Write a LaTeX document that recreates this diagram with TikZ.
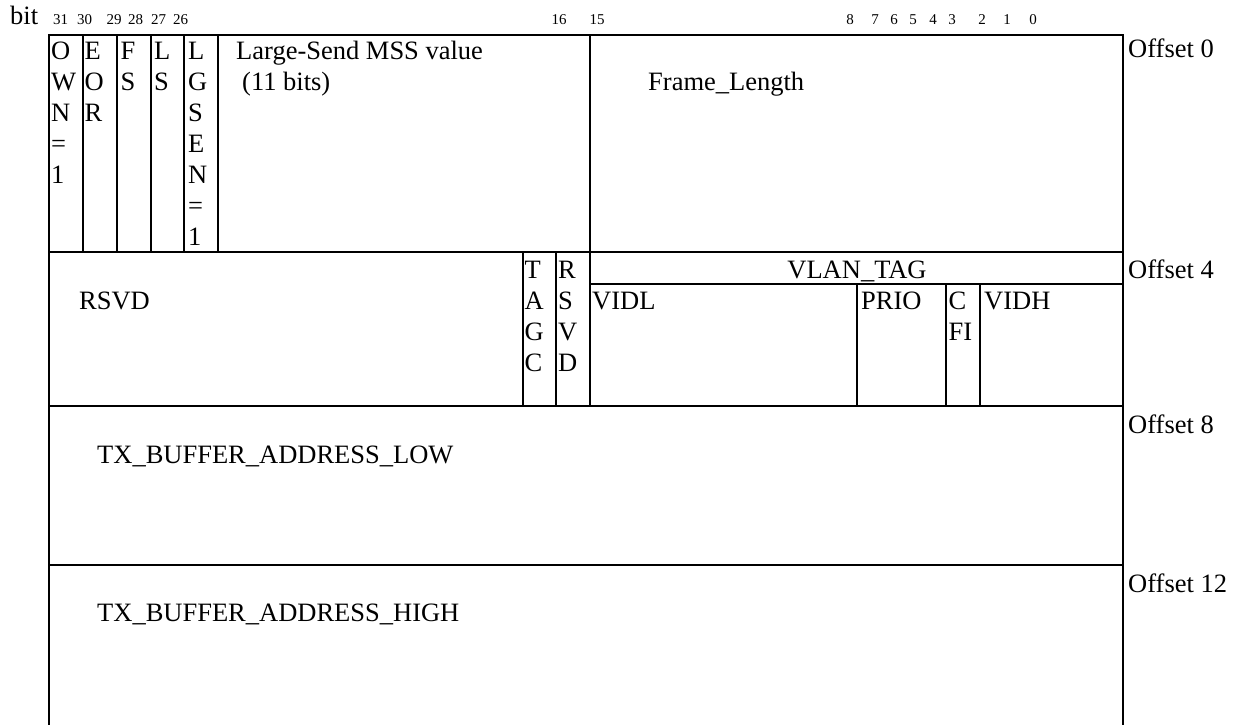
\documentclass[tikz,border=0pt]{standalone}
\usepackage{fontspec}
\setmainfont{Liberation Serif}
\newcommand\mystack[1]{\vtop{\baselineskip=31pt\lineskiplimit=-100pt\lineskip=0pt\halign{##\hfil\cr#1\crcr}}}
\begin{document}
\begin{tikzpicture}[x=1pt,y=-1pt,
  grid/.style={line width=1.8pt,line cap=rect},
  txt/.style={anchor=base west,inner sep=0pt,font=\fontsize{26.5}{31}\selectfont},
  ctxt/.style={anchor=base,inner sep=0pt,font=\fontsize{26.5}{31}\selectfont},
  bitno/.style={anchor=base,inner sep=0pt,font=\fontsize{15}{18}\selectfont}]
\useasboundingbox (0,0) rectangle (1237,724);
\clip (0,0) rectangle (1237,724);
% frame and rows
\draw[grid] (49,35) -- (1123,35);
\draw[grid] (49,35) -- (49,740);
\draw[grid] (1123,35) -- (1123,740);
\draw[grid] (49,252) -- (1123,252);
\draw[grid] (49,406) -- (1123,406);
\draw[grid] (49,565) -- (1123,565);
% row 1 columns
\foreach \x in {83,117,151,184,218} \draw[grid] (\x,35) -- (\x,252);
\draw[grid] (590,35) -- (590,406);
% row 2 columns
\draw[grid] (522.7,252) -- (522.7,406);
\draw[grid] (556,252) -- (556,406);
\draw[grid] (590,284) -- (1123,284);
\foreach \x in {857,946,980} \draw[grid] (\x,284) -- (\x,406);
% bit header
\node[txt] (bit) at (10,24) {bit};
\node[bitno] (b31) at (60.5,24) {31};
\node[bitno] (b30) at (84.5,24) {30};
\node[bitno] (b29) at (114,24) {29};
\node[bitno] (b28) at (135.5,24) {28};
\node[bitno] (b27) at (158.5,24) {27};
\node[bitno] (b26) at (180.5,24) {26};
\node[bitno] (b16) at (559,24) {16};
\node[bitno] (b15) at (597,24) {15};
\node[bitno] (b8) at (850,24) {8};
\node[bitno] (b7) at (875,24) {7};
\node[bitno] (b6) at (894,24) {6};
\node[bitno] (b5) at (913,24) {5};
\node[bitno] (b4) at (933,24) {4};
\node[bitno] (b3) at (952,24) {3};
\node[bitno] (b2) at (982,24) {2};
\node[bitno] (b1) at (1007,24) {1};
\node[bitno] (b0) at (1033,24) {0};
% row 1
\node[txt] (own) at (51,59) {\mystack{O\cr W\cr N\cr =\cr 1}};
\node[txt] (eor) at (84.5,59) {\mystack{E\cr O\cr R}};
\node[txt] (fs) at (120.5,59) {\mystack{F\cr S}};
\node[txt] (ls) at (154,59) {\mystack{L\cr S}};
\node[txt] (lgsen) at (188,59) {\mystack{L\cr G\cr S\cr E\cr N\cr =\cr 1}};
\node[txt] (mss) at (236,59) {Large-Send MSS value};
\node[txt] (mssb) at (242,90) {(11 bits)};
\node[txt] (flen) at (648,90) {Frame\_Length};
% row 2
\node[txt] (rsvd) at (79,309) {RSVD};
\node[txt] (tagc) at (524.5,278) {\mystack{T\cr A\cr G\cr C}};
\node[txt] (rsvd2) at (558,278) {\mystack{R\cr S\cr V\cr D}};
\node[ctxt] (vlan) at (857,278) {VLAN\_TAG};
\node[txt] (vidl) at (592,309) {VIDL};
\node[txt] (prio) at (861,309) {PRIO};
\node[txt] (cfi) at (948.5,309) {\mystack{C\cr FI}};
\node[txt] (vidh) at (984,309) {VIDH};
% rows 3 and 4
\node[txt] (low) at (97,463) {TX\_BUFFER\_ADDRESS\_LOW};
\node[txt] (high) at (97,621) {TX\_BUFFER\_ADDRESS\_HIGH};
% offsets
\node[txt] (o0) at (1128,57) {Offset 0};
\node[txt] (o4) at (1128,278) {Offset 4};
\node[txt] (o8) at (1128,433) {Offset 8};
\node[txt] (o12) at (1128,592) {Offset 12};
\end{tikzpicture}
\end{document}
